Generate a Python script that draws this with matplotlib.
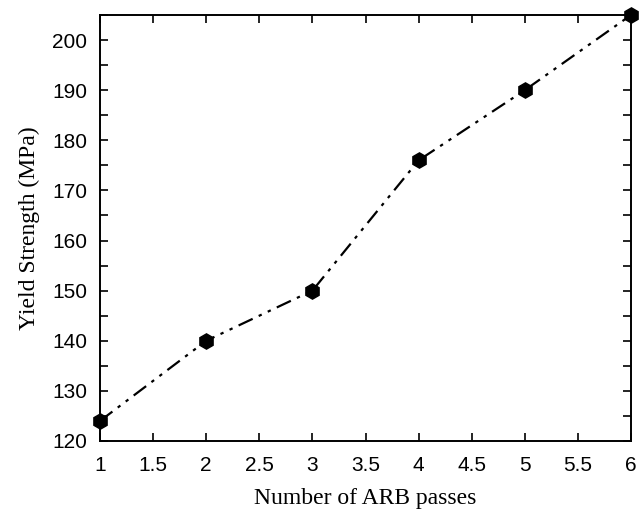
import numpy as np
import matplotlib
matplotlib.use("Agg")
import matplotlib.pyplot as plt
from matplotlib.ticker import MultipleLocator

passes = [1, 2, 3, 4, 5, 6]
yield_strength = [124, 140, 150, 176, 190, 205]
x_tick_labels = ["1", "1.5", "2", "2.5", "3", "3.5", "4", "4.5", "5", "5.5", "6"]

fig = plt.figure(figsize=(6.44, 5.16), dpi=100)
ax = fig.add_axes([100 / 644, 75 / 516, 531 / 644, 426 / 516])

ax.plot(passes, yield_strength, color="black", linewidth=1.6,
        dashes=(7, 3, 1.5, 3, 1.5, 3), marker="h", markersize=11,
        clip_on=False, zorder=3)

ax.set_xlim(1, 6)
ax.set_ylim(120, 205)
ax.yaxis.set_major_locator(MultipleLocator(10))
ax.yaxis.set_minor_locator(MultipleLocator(5))
ax.set_xticks(np.arange(1, 6.01, 0.5))
ax.set_xticklabels(x_tick_labels)

ax.tick_params(which="both", direction="in", top=True, right=True,
               width=1.2, length=6, labelsize=15)
ax.tick_params(axis="x", pad=11)
ax.tick_params(axis="y", pad=9)
for lbl in ax.get_xticklabels() + ax.get_yticklabels():
    lbl.set_family("Liberation Sans")
for s in ax.spines.values():
    s.set_linewidth(1.4)

ax.set_xlabel("Number of ARB passes", family="Liberation Serif", fontsize=17, labelpad=9)
ax.set_ylabel("Yield Strength (MPa)", family="Liberation Serif", fontsize=17, labelpad=9)

fig.savefig("out.png", dpi=100, facecolor="white")
